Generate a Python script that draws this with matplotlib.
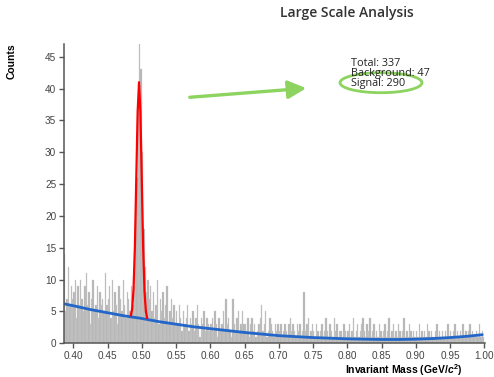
import numpy as np
import matplotlib
matplotlib.use("Agg")
import matplotlib.pyplot as plt
from matplotlib.patches import Ellipse, FancyArrowPatch

plt.rcParams['font.family'] = ['Liberation Sans', 'DejaVu Sans']
plt.rcParams['mathtext.fontset'] = 'custom'
plt.rcParams['mathtext.rm'] = 'Liberation Sans:bold'
plt.rcParams['mathtext.it'] = 'Liberation Sans:bold:italic'

# ---------------- data ----------------
bin_start = 0.386
bin_width = 0.002
counts = (
    [14, 5, 7, 12, 6, 9, 7]
    + [8, 10, 4, 9, 6, 10, 7, 5, 9, 11, 6, 8, 3, 7, 10, 5, 6, 9, 4, 8, 6, 7, 5, 11, 6]
    + [7, 9, 4, 10, 5, 8, 6, 3, 9, 7, 5, 10, 6, 4, 8, 7, 5, 9]
    + [6, 9, 15, 26, 38, 47, 43, 30, 18, 12, 8, 10]
    + [7, 9, 5, 8, 4, 6, 10, 3, 7, 5, 8, 4, 6, 9, 3, 5, 7, 4, 6, 3]
    + [5, 3, 6, 4, 2, 5, 3, 4, 6, 2, 4, 3, 5, 2, 4, 6, 3, 1, 4, 3, 5, 2, 4, 3, 2]
    + [3, 4, 2, 5, 3, 1, 4, 2, 3, 5, 2, 7, 3, 4, 2, 1, 7, 3, 2, 4, 5, 2, 3, 5, 3]
    + [3, 2, 4, 1, 3, 4, 2, 3, 1, 2, 3, 4, 6, 2, 3, 5, 1, 2, 4, 3, 2, 1, 3, 2, 3]
    + [2, 3, 1, 2, 3, 2, 1, 3, 4, 2, 3, 2, 1, 3, 2, 3, 1, 2, 8, 2, 3, 4, 1, 2, 3]
    + [2, 1, 3, 2, 1, 2, 3, 1, 2, 4, 2, 1, 3, 2, 1, 4, 2, 3, 1, 2, 2, 1, 3, 2, 1]
    + [2, 3, 1, 2, 4, 1, 2, 3, 1, 2, 3, 4, 2, 1, 3, 2, 4, 1, 2, 3, 1, 2, 1, 3, 2]
    + [1, 2, 3, 1, 2, 4, 1, 2, 3, 1, 2, 1, 3, 2, 1, 2, 4, 1, 2, 1, 3, 2, 1, 2, 1]
    + [2, 1, 3, 1, 2, 1, 2, 1, 3, 2, 1, 2, 1, 1, 2, 3, 1, 2, 1, 2, 1, 2, 1, 3, 1]
    + [2, 1, 2, 3, 1, 2, 1, 2, 1, 3, 1, 2, 1, 2, 3, 1, 2, 1, 1, 2, 1, 3, 1, 2, 1]
)

bg_mass = [0.3865, 0.400, 0.425, 0.450, 0.475, 0.500, 0.525, 0.550, 0.575, 0.600,
           0.625, 0.650, 0.675, 0.700, 0.725, 0.750, 0.775, 0.800, 0.825, 0.850,
           0.875, 0.900, 0.925, 0.950, 0.975, 0.997]
bg_counts = [6.2, 5.9, 5.3, 4.8, 4.3, 3.9, 3.4, 3.0, 2.6, 2.3,
             2.0, 1.7, 1.45, 1.2, 1.05, 0.9, 0.8, 0.7, 0.65, 0.6,
             0.6, 0.65, 0.75, 0.9, 1.1, 1.35]

sig_mass = [0.4842, 0.486, 0.488, 0.490, 0.492, 0.494, 0.496, 0.498, 0.500,
            0.502, 0.504, 0.506, 0.5078]
sig_counts = [4.4, 5.4, 8.5, 15.3, 25.9, 36.4, 41.0, 36.4, 25.8, 15.1, 8.2, 5.0, 4.0]

title = "Large Scale Analysis"
stats_lines = ["Total: 337", "Background: 47", "Signal: 290"]
x_ticks = [0.40, 0.45, 0.50, 0.55, 0.60, 0.65, 0.70, 0.75, 0.80, 0.85, 0.90, 0.95, 1.00]
y_ticks = [0, 5, 10, 15, 20, 25, 30, 35, 40, 45]

# ---------------- figure ----------------
W, H = 494, 377
fig = plt.figure(figsize=(W / 100, H / 100), dpi=100)
ax = fig.add_axes([64 / W, 1 - 343.3 / H, (485 - 64) / W, (343.3 - 44) / H])

centers = bin_start + bin_width * (np.arange(len(counts)) + 0.5)
ax.bar(centers, counts, width=bin_width, color='#a6a6a6', alpha=0.85,
       linewidth=0.3, edgecolor='#d0d0d0')
ax.plot(bg_mass, bg_counts, color='#2166c8', lw=2.0, solid_capstyle='round')
ax.plot(sig_mass, sig_counts, color='#ff0000', lw=1.6)

ax.set_xlim(0.3865, 1.001)
ax.set_ylim(0, 47)
ax.set_xticks(x_ticks)
ax.set_xticklabels([f"{v:.2f}" for v in x_ticks])
ax.set_yticks(y_ticks)
for s in ['top', 'right']:
    ax.spines[s].set_visible(False)
for s in ['left', 'bottom']:
    ax.spines[s].set_color('#555555')
    ax.spines[s].set_linewidth(1.1)
ax.tick_params(direction='out', length=3.5, width=1.0, color='#555555',
               labelsize=7.2, labelcolor='#444444', pad=2)

fig.text(12 / W, 1 - 61 / H, "Counts", rotation=90, ha='center', va='center',
         fontsize=7.5, fontweight='bold', color='black')
fig.text(463 / W, 1 - 373.5 / H, r"Invariant Mass (GeV/$\it{c}^{2}$)",
         ha='right', va='baseline', fontsize=7.5, fontweight='bold', color='black')

fig.text(347 / W, 1 - 13 / H, title, ha='center', va='center',
         fontsize=10, fontweight='semibold', color='#333333',
         family=['Open Sans', 'DejaVu Sans'])

for i, line in enumerate(stats_lines):
    fig.text(351 / W, 1 - (66 + 10 * i) / H, line, ha='left', va='baseline',
             fontsize=7.8, color='#222222', family=['Open Sans', 'DejaVu Sans'])

green = '#8cd35f'
ell = Ellipse((381 / W, 1 - 82.7 / H), 82 / W, 20 / H, transform=fig.transFigure,
              fill=False, edgecolor=green, lw=2.0)
fig.patches.append(ell)
arr = FancyArrowPatch((187, H - 97.5), (309, H - 88), transform=None,
                      arrowstyle='-|>,head_length=1.1,head_width=0.55',
                      mutation_scale=10, color=green, lw=2.4)
fig.patches.append(arr)

fig.savefig("out.png", dpi=100)
